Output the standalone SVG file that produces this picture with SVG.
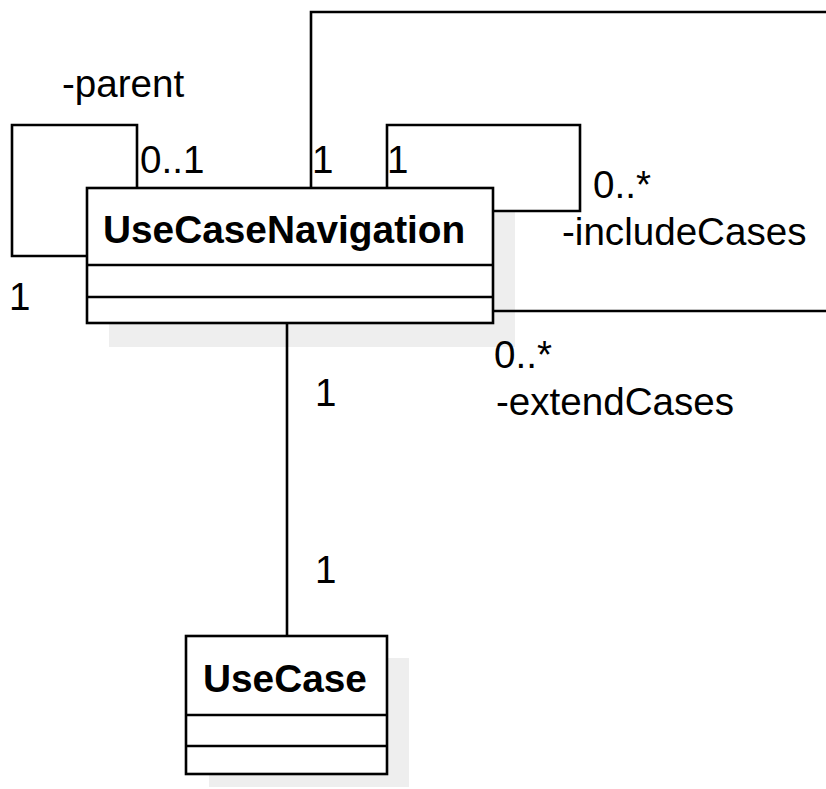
<svg xmlns="http://www.w3.org/2000/svg" width="826" height="789" viewBox="0 0 826 789">
<style>
.box{fill:#fff;stroke:#000;stroke-width:2.6}
.shadow{fill:#eeeeee;stroke:none}
.line{fill:none;stroke:#000;stroke-width:2.6}
.div{stroke:#000;stroke-width:2.6}
.t{font-family:"Liberation Sans",Arial,sans-serif;font-size:38.6px;fill:#000}
.b{font-family:"Liberation Sans",Arial,sans-serif;font-size:38.8px;font-weight:bold;fill:#000}
</style>
<rect width="826" height="789" fill="#fff"/>
<g id="shadows">
<rect class="shadow" x="109" y="210" width="406" height="137"/>
<rect class="shadow" x="209" y="658" width="200" height="129"/>
</g>
<g id="connectors">
<polyline class="line" points="137,188 137,125 12,125 12,256 87,256"/>
<polyline class="line" points="311,188 311,12 830,12 830,311 493,311"/>
<polyline class="line" points="387,188 387,125 580,125 580,211 493,211"/>
<line class="line" x1="287" y1="323" x2="287" y2="636"/>
<text class="t" x="62" y="97">-parent</text>
<text class="t" x="140" y="173">0..1</text>
<text class="t" x="9" y="310">1</text>
<text class="t" x="312" y="173">1</text>
<text class="t" x="387" y="173">1</text>
<text class="t" x="593" y="198">0..*</text>
<text class="t" x="562" y="245">-includeCases</text>
<text class="t" x="494" y="368">0..*</text>
<text class="t" x="496" y="415">-extendCases</text>
<text class="t" x="315" y="406">1</text>
<text class="t" x="315" y="583">1</text>
</g>
<g id="UseCaseNavigation">
<rect class="box" x="87" y="188" width="406" height="135"/>
<line class="div" x1="87" y1="265" x2="493" y2="265"/>
<line class="div" x1="87" y1="297" x2="493" y2="297"/>
<text class="b" x="103" y="243">UseCaseNavigation</text>
</g>
<g id="UseCase">
<rect class="box" x="186" y="636" width="201" height="138"/>
<line class="div" x1="186" y1="715" x2="387" y2="715"/>
<line class="div" x1="186" y1="746" x2="387" y2="746"/>
<text class="b" x="203" y="692">UseCase</text>
</g>
</svg>
